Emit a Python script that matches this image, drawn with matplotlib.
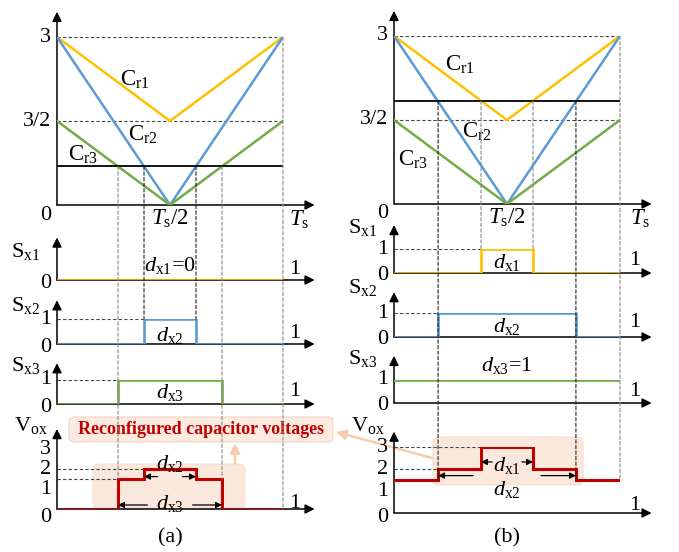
import matplotlib
matplotlib.use('Agg')
import matplotlib.pyplot as plt
from matplotlib.patches import ConnectionPatch, FancyBboxPatch

plt.rcParams['font.family'] = 'Liberation Serif'
plt.rcParams['mathtext.fontset'] = 'custom'
plt.rcParams['mathtext.rm'] = 'Liberation Serif'
plt.rcParams['mathtext.it'] = 'Liberation Serif:italic'
plt.rcParams['mathtext.bf'] = 'Liberation Serif:bold'

# carriers over one switching period (time in units of Ts)
carrier_t = [0, 0.5, 1]
cr1 = [3, 1.5, 3]
cr2 = [3, 0, 3]
cr3 = [1.5, 0, 1.5]

# reference level
ref_a = 0.69
ref_b = 1.84

# duty cycles dx1, dx2, dx3
duty_a = [0.0, 0.23, 0.46]
duty_b = [0.23, 0.61, 1.0]

# voltage each switch adds to Vox
cap_v = [1.0, 0.5, 1.5]

W, H = 679, 552
YELLOW, BLUE, GREEN, RED = '#FFC000', '#5B9BD5', '#70AD47', '#C00000'
PEACH, PEACH_EDGE = '#FBE5D6', '#F8CBAD'
DASH = (0, (3, 2))

fig = plt.figure(figsize=(W / 100, H / 100), dpi=100)

# background layer in pixel units for the highlight boxes and callout
deco = fig.add_axes([0, 0, 1, 1])
deco.set_xlim(0, W)
deco.set_ylim(H, 0)
deco.set_axis_off()


def panel(x0, y0, ppu, vmax):
    # (x0, y0) is the pixel of t=0, value=0; ppu = pixels per unit
    ax = fig.add_axes([x0 / W, 1 - y0 / H, 226 / W, ppu * vmax / H])
    ax.set_xlim(0, 1)
    ax.set_ylim(0, vmax)
    ax.set_axis_off()
    return ax


def axes_arrows(ax, top, right=1.14):
    kw = dict(arrowstyle='-|>', color='k', lw=1.1, mutation_scale=14,
              shrinkA=0, shrinkB=0)
    ax.annotate('', xy=(0, top), xytext=(0, 0), arrowprops=kw,
                annotation_clip=False, zorder=2)
    ax.annotate('', xy=(right, 0), xytext=(0, 0), arrowprops=kw,
                annotation_clip=False, zorder=2)


def ticks(ax, vals, labels, drop=3):
    for v, s in zip(vals, labels):
        dy = -drop if v == 0 else 0
        ax.annotate(s, (0, v), xytext=(-6, dy), textcoords='offset pixels',
                    ha='right', va='center', fontsize=16, annotation_clip=False)


def pulse(d):
    a, b = 0.5 - d / 2, 0.5 + d / 2
    if d <= 0:
        return [0, 1], [0, 0]
    if d >= 1:
        return [0, 1], [1, 1]
    return [0, a, a, b, b, 1], [0, 0, 1, 1, 0, 0]


def vox(duty):
    edges = sorted({0.0, 1.0} | {0.5 - d / 2 for d in duty} | {0.5 + d / 2 for d in duty})
    segs = []
    for lo, hi in zip(edges[:-1], edges[1:]):
        if hi - lo < 1e-9:
            continue
        mid = (lo + hi) / 2
        val = sum(c for c, d in zip(cap_v, duty) if abs(mid - 0.5) < d / 2)
        segs.append((lo, hi, val))
    t, v = [], []
    for lo, hi, val in segs:
        t += [lo, hi]
        v += [val, val]
    return t, v, segs


def hdash(ax, v, t_end, color='#444444'):
    ax.plot([0, t_end], [v, v], ls=DASH, color=color, lw=0.8, zorder=1)


def vdash(t, axA, vA, axB, vB, color):
    con = ConnectionPatch(xyA=(t, vA), coordsA=axA.transData,
                          xyB=(t, vB), coordsB=axB.transData,
                          color=color, lw=0.8, ls=DASH, zorder=1)
    fig.add_artist(con)


def span_arrows(ax, d, y, gap):
    kw = dict(arrowstyle='-|>', color='k', lw=0.9, mutation_scale=9,
              shrinkA=0, shrinkB=0)
    ax.annotate('', xy=(0.5 - d / 2, y), xytext=(0.5 - gap, y), arrowprops=kw, zorder=4)
    ax.annotate('', xy=(0.5 + d / 2, y), xytext=(0.5 + gap, y), arrowprops=kw, zorder=4)


def column(x0, geo, ref, duty, lab, col_name):
    top = panel(x0, *geo['top'])
    sx = [panel(x0, *g) for g in geo['sx']]
    vx = panel(x0, *geo['vox'])

    # carriers and reference
    hdash(top, 3, 1)
    hdash(top, 1.5, 1)
    top.plot(carrier_t, cr1, color=YELLOW, lw=1.8, zorder=3)
    top.plot(carrier_t, cr2, color=BLUE, lw=1.8, zorder=3)
    top.plot(carrier_t, cr3, color=GREEN, lw=1.8, zorder=3)
    top.plot([0, 1], [ref, ref], color='k', lw=1.3, zorder=3)
    axes_arrows(top, geo['top'][2] + 0.45)
    ticks(top, [3, 1.5, 0], ['3', '3/2', '0'], drop=10)
    for name, (tx, ty) in zip(['r1', 'r2', 'r3'], lab['cr']):
        top.text(tx, ty, r'$\mathrm{C}_{\mathrm{%s}}$' % name, fontsize=16.5,
                 ha='center', va='center')
    top.text(0.5, -0.25, r'$T_{\mathrm{s}}\mathrm{/2}$', fontsize=16.5,
             ha='center', va='center')
    top.text(lab['ts'], -0.27, r'$T_{\mathrm{s}}$', fontsize=16.5,
             ha='center', va='center')

    # switching functions
    colors = [YELLOW, BLUE, GREEN]
    for i, (ax, d, c) in enumerate(zip(sx, duty, colors)):
        vmax = geo['sx'][i][2]
        t, v = pulse(d)
        ax.plot(t, v, color=c, lw=1.9, zorder=3, solid_joinstyle='miter')
        if 0 < d < 1:
            hdash(ax, 1, 0.5 - d / 2)
        axes_arrows(ax, vmax + lab['sx_arrow'][i])
        if d > 0:
            ticks(ax, [1, 0], ['1', '0'])
        else:
            ticks(ax, [0], ['0'])
        ax.annotate(r'$\mathrm{S}_{\mathrm{x%d}}$' % (i + 1), (0, lab['sx_name'][i]),
                    xytext=(-31, 0), textcoords='offset pixels', ha='center',
                    va='center', fontsize=16, annotation_clip=False)
        dtxt = r'$d_{\mathrm{x%d}}$' % (i + 1)
        if d <= 0:
            dtxt += '=0'
        elif d >= 1:
            dtxt += '=1'
        ax.text(0.5, lab['sx_d'][i], dtxt, fontsize=16, ha='center', va='center')
        ax.text(lab['one_x'], lab['sx_one'][i], '1', fontsize=16, ha='center',
                va='center')

    # output voltage
    t, v, segs = vox(duty)
    vx.plot(t, v, color=RED, lw=2.2, zorder=3, solid_joinstyle='miter')
    prev = segs[0][2]
    for lo, hi, val in segs:
        if lo < 0.5 and val > prev:
            hdash(vx, val, lo)
        prev = val
    axes_arrows(vx, 3 + lab['vox_arrow'])
    ticks(vx, [3, 2, 1, 0], ['3', '2', '1', '0'], drop=lab['vox_drop'])
    vx.annotate(r'$\mathrm{V}_{\mathrm{ox}}$', (0, lab['vox_name']), xytext=(-26, 0),
                textcoords='offset pixels', ha='center', va='center', fontsize=16,
                annotation_clip=False)
    vx.text(lab['one_x'], lab['vox_one'], '1', fontsize=16, ha='center', va='center')
    for (k, y_arrow, y_text, gap) in lab['vox_spans']:
        span_arrows(vx, duty[k], y_arrow, gap)
        vx.text(0.5, y_text, r'$d_{\mathrm{x%d}}$' % (k + 1), fontsize=16,
                ha='center', va='center', zorder=5)
    vx.text(0.5, lab['caption'], col_name, fontsize=16, ha='center', va='center')

    # vertical guides from the comparison points
    dark, grey = '#222222', '#8a8a8a'
    for k, d in enumerate(duty):
        if not 0 < d < 1:
            continue
        c = dark if k == 1 else grey
        for e in (0.5 - d / 2, 0.5 + d / 2):
            if k == lab['to_vox']:
                near = [val for lo, hi, val in segs
                        if abs(lo - e) < 1e-6 or abs(hi - e) < 1e-6]
                vdash(e, top, ref, vx, min(l for l in near if l > 0), c)
            else:
                vdash(e, top, ref, sx[k], 1, c)
    vdash(1, top, 3, vx, v[-1], grey)


geo_a = {'top': (205, 56, 3), 'sx': [(280, 25, 1), (344, 25, 1), (404, 24, 1)],
         'vox': (509, 20, 3)}
geo_b = {'top': (204, 56, 3), 'sx': [(273, 24, 1), (337, 24, 1), (403, 23, 1)],
         'vox': (513, 22, 3)}

lab_a = {'cr': [(0.345, 2.23), (0.38, 1.25), (0.115, 0.9)], 'ts': 1.07,
         'sx_arrow': [0.7, 0.75, 0.7], 'sx_name': [1.15, 1.55, 1.6],
         'sx_d': [0.6, 0.36, 0.46], 'sx_one': [0.4, 0.44, 0.5], 'one_x': 1.05,
         'vox_arrow': 1.0, 'vox_drop': 8, 'vox_name': 4.15, 'vox_one': 0.3,
         'vox_spans': [(1, 1.62, 2.3, 0.055), (2, 0.2, 0.3, 0.1)],
         'caption': -1.45, 'to_vox': 2}
lab_b = {'cr': [(0.29, 2.48), (0.367, 1.29), (0.084, 0.79)], 'ts': 1.09,
         'sx_arrow': [1.0, 0.87, 1.05], 'sx_name': [1.9, 2.05, 1.95],
         'sx_d': [0.42, 0.42, 1.65], 'sx_one': [0.54, 0.62, 0.48], 'one_x': 1.065,
         'vox_arrow': 0.7, 'vox_drop': 4, 'vox_name': 4.0, 'vox_one': 0.32,
         'vox_spans': [(0, 2.32, 2.18, 0.066), (1, 1.7, 1.05, 0.15)],
         'caption': -1.15, 'to_vox': 1}

column(57, geo_a, ref_a, duty_a, lab_a, '(a)')
column(394, geo_b, ref_b, duty_b, lab_b, '(b)')

# highlight boxes and callout
for (x, y, w, h) in [(93, 464, 152, 45), (433, 437, 150, 48)]:
    deco.add_patch(FancyBboxPatch((x, y), w, h, boxstyle='round,pad=0,rounding_size=6',
                                  fc=PEACH, ec='#F6DCCB', lw=0.8, alpha=0.85))
deco.add_patch(FancyBboxPatch((69, 417), 264, 25, boxstyle='round,pad=0,rounding_size=5',
                              fc='#FCEBE1', ec='#F4D5C2', lw=0.8))
deco.text(201, 430, 'Reconfigured capacitor voltages', fontsize=13, fontweight='bold',
          color=RED, ha='center', va='center')
arrow_kw = dict(arrowstyle='-|>', color=PEACH_EDGE, lw=1.8, mutation_scale=14,
                shrinkA=0, shrinkB=0)
deco.annotate('', xy=(235, 443), xytext=(235, 463), arrowprops=arrow_kw)
deco.annotate('', xy=(336, 432), xytext=(432, 458), arrowprops=arrow_kw)

plt.savefig('out.png', dpi=100)
